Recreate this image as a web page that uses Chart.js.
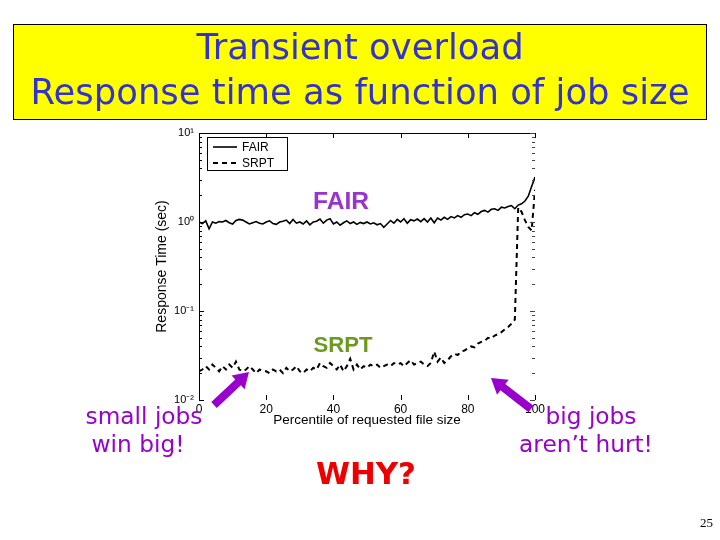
<!DOCTYPE html>
<html><head><meta charset="utf-8">
<script src="https://cdn.jsdelivr.net/npm/chart.js@4.4.1/dist/chart.umd.min.js"></script>
<style>html,body{margin:0;padding:0;background:#fff;}canvas{display:block;}</style>
</head><body>
<canvas id="c" width="720" height="540"></canvas>
<script>
// ---------- data ----------
const percentiles = [0,1,2,3,4,5,6,7,8,9,10,11,12,13,14,15,16,17,18,19,20,21,22,23,24,25,26,27,28,29,30,31,32,33,34,35,36,37,38,39,40,41,42,43,44,45,46,47,48,49,50,51,52,53,54,55,56,57,58,59,60,61,62,63,64,65,66,67,68,69,70,71,72,73,74,75,76,77,78,79,80,81,82,83,84,85,86,87,88,89,90,91,92,93,94,95,96,97,98,99,100];
const fairResponse = [1.0,0.96,1.03,0.84,1.0,0.97,1.01,1.0,1.04,0.98,
  0.95,1.04,1.07,1.05,1.0,0.95,0.98,1.01,0.97,0.95,
  1.0,1.03,0.96,0.94,1.0,1.02,1.05,0.96,1.07,0.97,
  1.0,0.95,1.03,0.93,1.0,1.02,1.08,0.97,1.05,1.09,
  0.95,1.0,0.92,0.98,1.03,0.96,1.0,0.94,0.99,0.96,
  1.0,0.95,0.98,0.93,0.96,0.87,0.95,1.04,0.97,1.07,
  1.0,1.09,0.97,1.06,1.03,1.08,1.01,1.09,1.0,1.11,
  0.98,1.11,1.05,1.13,1.07,1.15,1.11,1.18,1.13,1.21,
  1.23,1.18,1.27,1.22,1.31,1.35,1.29,1.39,1.41,1.35,
  1.47,1.44,1.49,1.53,1.41,1.55,1.6,1.72,1.95,2.5,3.2];
const srptResponse = [0.021,0.022,0.024,0.022,0.025,0.023,0.021,0.024,0.022,0.025,
  0.023,0.027,0.022,0.021,0.022,0.024,0.022,0.020,0.022,0.021,
  0.021,0.020,0.022,0.021,0.022,0.020,0.023,0.021,0.022,0.024,
  0.021,0.020,0.022,0.021,0.023,0.022,0.026,0.024,0.023,0.026,
  0.024,0.022,0.025,0.021,0.024,0.029,0.022,0.025,0.022,0.024,
  0.023,0.025,0.024,0.025,0.023,0.024,0.025,0.024,0.026,0.025,
  0.026,0.024,0.026,0.028,0.025,0.026,0.027,0.025,0.024,0.026,
  0.035,0.027,0.030,0.026,0.028,0.031,0.033,0.032,0.035,0.036,
  0.038,0.040,0.039,0.043,0.045,0.046,0.050,0.049,0.053,0.055,
  0.058,0.062,0.066,0.072,0.080,1.45,1.30,1.05,0.88,0.80,2.30];
const seriesLabels = ['FAIR','SRPT'];
const xTickValues = [0,20,40,60,80,100];
const yMajorTicks = [0.01,0.1,1,10];
const yTickLabels = ['10\u207B\u00B2','10\u207B\u00B9','10\u2070','10\u00B9'];
const yMinorSteps = [2,3,4,5,6,7,8,9];
const titleLines = ['Transient overload','Response time as function of job size'];
const xAxisTitle = 'Percentile of requested file size';
const yAxisTitle = 'Response Time (sec)';
const leftNote = ['small jobs','win big!'];
const rightNote = ['big jobs','aren\u2019t hurt!'];
const centerNote = 'WHY?';
const pageNumber = '25';

// ---------- helpers ----------
const yAllTicks = [];
yMajorTicks.forEach((m,i)=>{ yAllTicks.push(m); if(i<yMajorTicks.length-1) yMinorSteps.forEach(s=>yAllTicks.push(+(m*s).toPrecision(3))); });

const COMIC = '"Comic Sans MS","DejaVu Sans",sans-serif';
function fitFont(ctx,text,w,fam,weight){ ctx.font = weight+' 100px '+fam; const m = ctx.measureText(text).width; return weight+' '+(100*w/m).toFixed(2)+'px '+fam; }
function seg(ctx,x1,y1,x2,y2){ ctx.beginPath(); ctx.moveTo(x1,y1); ctx.lineTo(x2,y2); ctx.stroke(); }
function arrow(ctx,x1,y1,x2,y2,shaft,headLen,headW,color){
  const ang=Math.atan2(y2-y1,x2-x1), L=Math.hypot(x2-x1,y2-y1);
  ctx.save(); ctx.translate(x1,y1); ctx.rotate(ang); ctx.fillStyle=color;
  ctx.beginPath(); ctx.moveTo(0,-shaft/2); ctx.lineTo(L-headLen,-shaft/2); ctx.lineTo(L-headLen,-headW/2);
  ctx.lineTo(L,0); ctx.lineTo(L-headLen,headW/2); ctx.lineTo(L-headLen,shaft/2); ctx.lineTo(0,shaft/2);
  ctx.closePath(); ctx.fill(); ctx.restore();
}

const slide = {
  id:'slide',
  beforeDraw(chart){
    const ctx = chart.ctx;
    ctx.save();
    ctx.fillStyle='#ffffff'; ctx.fillRect(0,0,720,540);
    ctx.fillStyle='#ffff00'; ctx.fillRect(13,24,694,96);
    ctx.strokeStyle='#000'; ctx.lineWidth=1; ctx.strokeRect(13.5,24.5,693,95);
    ctx.font = fitFont(ctx,titleLines[1],659,COMIC,'normal');
    ctx.fillStyle='#3333cc'; ctx.textAlign='center'; ctx.textBaseline='middle';
    ctx.fillText(titleLines[0],360,50);
    ctx.fillText(titleLines[1],360,95);
    ctx.restore();
  },
  afterDraw(chart){
    const ctx = chart.ctx, a = chart.chartArea, xs = chart.scales.x, ys = chart.scales.y;
    ctx.save();
    ctx.strokeStyle='#000'; ctx.lineWidth=1;
    seg(ctx,a.left,a.top+0.5,a.right,a.top+0.5);
    yAllTicks.forEach(v=>{
      const py = Math.round(ys.getPixelForValue(v))+0.5;
      const len = yMajorTicks.includes(v)?5:3;
      ctx.strokeStyle='#000'; seg(ctx,a.left,py,a.left+len,py);
      ctx.strokeStyle='#444'; seg(ctx,a.right-len,py,a.right,py);
    });
    ctx.strokeStyle='#000';
    xTickValues.forEach(v=>{
      const px = Math.round(xs.getPixelForValue(v))+0.5;
      seg(ctx,px,a.bottom,px,a.bottom-5);
      seg(ctx,px,a.top,px,a.top+5);
    });
    // legend
    const lx=207, ly=137, lw=80, lh=33;
    ctx.fillStyle='#fff'; ctx.fillRect(lx,ly,lw,lh);
    ctx.strokeStyle='#000'; ctx.lineWidth=1; ctx.strokeRect(lx+0.5,ly+0.5,lw,lh);
    ctx.font='12px "Liberation Sans", Arial, sans-serif'; ctx.textAlign='left'; ctx.textBaseline='middle'; ctx.fillStyle='#000';
    chart.data.datasets.forEach((ds,i)=>{
      const yy = ly+10+i*16;
      ctx.save(); ctx.strokeStyle=ds.borderColor; ctx.lineWidth=ds.borderWidth; ctx.setLineDash(ds.borderDash||[]);
      seg(ctx,lx+6,yy,lx+30,yy); ctx.restore();
      ctx.fillText(ds.label,lx+35,yy+1);
    });
    // in-plot labels
    ctx.textAlign='center'; ctx.textBaseline='middle';
    ctx.fillStyle='#9933cc'; ctx.font=fitFont(ctx,seriesLabels[0],56,'"Liberation Sans",Arial,sans-serif','bold');
    ctx.fillText(seriesLabels[0],341,202);
    ctx.fillStyle='#6b9a1f'; ctx.font=fitFont(ctx,seriesLabels[1],59,'"Liberation Sans",Arial,sans-serif','bold');
    ctx.fillText(seriesLabels[1],343,346);
    // arrows
    arrow(ctx,214,405,249,372,8,15,19,'#9900cc');
    arrow(ctx,531,409,491,378,8,15,19,'#9900cc');
    // notes
    ctx.fillStyle='#9900cc';
    ctx.font=fitFont(ctx,leftNote[0],117,COMIC,'normal');
    ctx.fillText(leftNote[0],144,418); ctx.fillText(leftNote[1],138,446);
    ctx.fillText(rightNote[0],591,418); ctx.fillText(rightNote[1],586,446);
    ctx.fillStyle='#ee0000'; ctx.font=fitFont(ctx,centerNote,100,COMIC,'bold');
    ctx.fillText(centerNote,366,476);
    ctx.fillStyle='#000'; ctx.font='13px "Liberation Serif", serif'; ctx.textAlign='right'; ctx.textBaseline='alphabetic';
    ctx.fillText(pageNumber,713,527);
    ctx.restore();
  }
};

const tickFont = {family:'"Liberation Sans", Arial, sans-serif', size:11};
new Chart(document.getElementById('c'), {
  type:'line',
  data:{ datasets:[
    {label:seriesLabels[0], data:percentiles.map((p,i)=>({x:p,y:fairResponse[i]})), borderColor:'#000', borderWidth:1.6, pointRadius:0, tension:0, fill:false},
    {label:seriesLabels[1], data:percentiles.map((p,i)=>({x:p,y:srptResponse[i]})), borderColor:'#000', borderWidth:2, borderDash:[5,4], pointRadius:0, tension:0, fill:false}
  ]},
  options:{
    responsive:false, animation:false, devicePixelRatio:1,
    layout:{padding:{left:150,right:185,top:133,bottom:110}},
    plugins:{legend:{display:false}, title:{display:false}, tooltip:{enabled:false}},
    scales:{
      x:{type:'linear', min:0, max:100,
        afterBuildTicks:s=>{ s.ticks = xTickValues.map(v=>({value:v})); },
        afterFit:s=>{ s.height = 30; },
        grid:{display:false, drawTicks:false, tickLength:0}, border:{display:false},
        ticks:{padding:2, color:'#000', font:{family:tickFont.family,size:12}, maxRotation:0, autoSkip:false},
        title:{display:true, text:xAxisTitle, color:'#000', font:{family:tickFont.family,size:13.5}, padding:{top:0,bottom:2}}
      },
      y:{type:'logarithmic', min:0.01, max:10,
        afterBuildTicks:s=>{ s.ticks = yAllTicks.map(v=>({value:v})); },
        afterFit:s=>{ s.width = 49; },
        grid:{display:false, drawTicks:false, tickLength:0}, border:{display:true,color:'#000',width:1},
        ticks:{padding:5, color:'#000', font:tickFont, autoSkip:false,
          callback:(v)=>{ const i = yMajorTicks.indexOf(v); return i>=0 ? yTickLabels[i] : ''; }},
        title:{display:true, text:yAxisTitle, color:'#000', font:{family:tickFont.family,size:14}, padding:{top:4,bottom:0}}
      }
    }
  },
  plugins:[slide]
});
</script>
</body></html>
